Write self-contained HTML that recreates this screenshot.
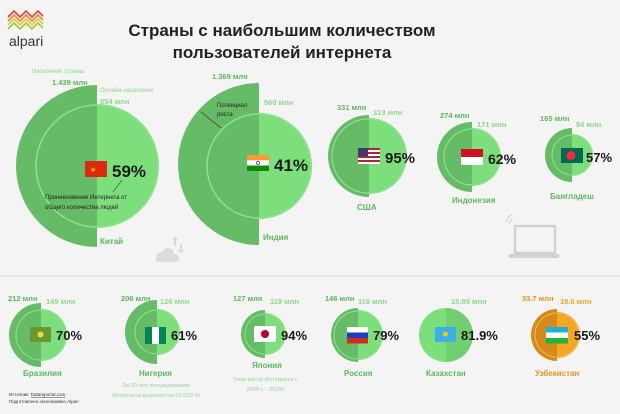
<!DOCTYPE html>
<html><head><meta charset="utf-8"><style>
html,body{margin:0;padding:0;background:#f4f4f4}
svg{display:block}
text{font-family:"Liberation Sans","DejaVu Sans",sans-serif}
</style></head><body>
<svg width="620" height="414" viewBox="0 0 620 414" xmlns="http://www.w3.org/2000/svg">
<rect width="620" height="414" fill="#f4f4f4"/>
<line x1="0" y1="276" x2="620" y2="276" stroke="#e6e6e6" stroke-width="2"/>
<!-- logo -->
<g fill="none" stroke-width="1.6">
<path d="M8 17 l6 -6 l6 6 l6 -6 l6 6 l6 -6 l5 5" stroke="#e8413a"/>
<path d="M8 21 l6 -6 l6 6 l6 -6 l6 6 l6 -6 l5 5" stroke="#f08a2a"/>
<path d="M8 25 l6 -6 l6 6 l6 -6 l6 6 l6 -6 l5 5" stroke="#f5c32c"/>
<path d="M8 29 l6 -6 l6 6 l6 -6 l6 6 l6 -6 l5 5" stroke="#9ccc3c"/>
</g>
<text x="9" y="46" font-size="14" fill="#333">alpari</text>
<text x="282" y="36" font-size="17" font-weight="bold" fill="#222" text-anchor="middle">Страны с наибольшим количеством</text>
<text x="282" y="58" font-size="17" font-weight="bold" fill="#222" text-anchor="middle">пользователей интернета</text>

<g>
<!-- China -->
<path d="M97 85 A81 81 0 0 0 97 247 Z" fill="#66bb66"/>
<path d="M97 104 A62 62 0 0 1 97 228 Z" fill="#7ddf7c"/>
<circle cx="97" cy="166" r="61" fill="none" stroke="#8fe08d" stroke-width="1.5"/>
<!-- India -->
<path d="M259 83 A81 81 0 0 0 259 245 Z" fill="#66bb66"/>
<path d="M259 113 A53 53 0 0 1 259 219 Z" fill="#7ddf7c"/>
<circle cx="259" cy="166" r="52" fill="none" stroke="#8fe08d" stroke-width="1.5"/>
<line x1="201" y1="112" x2="221" y2="128" stroke="#333" stroke-width="0.7"/>
<!-- USA -->
<path d="M369 115 A41 41 0 0 0 369 197 Z" fill="#66bb66"/>
<path d="M369 118 A38 38 0 0 1 369 194 Z" fill="#7ddf7c"/>
<circle cx="369" cy="156" r="37" fill="none" stroke="#8fe08d" stroke-width="1.2"/>
<!-- Indonesia -->
<path d="M472 122 A35 35 0 0 0 472 192 Z" fill="#66bb66"/>
<path d="M472 128 A29 29 0 0 1 472 186 Z" fill="#7ddf7c"/>
<circle cx="472" cy="157" r="28" fill="none" stroke="#8fe08d" stroke-width="1.2"/>
<!-- Bangladesh -->
<path d="M572 128 A27 27 0 0 0 572 182 Z" fill="#66bb66"/>
<path d="M572 134 A21 21 0 0 1 572 176 Z" fill="#7ddf7c"/>
<circle cx="572" cy="155" r="20" fill="none" stroke="#8fe08d" stroke-width="1"/>
<!-- bottom row -->
<path d="M41 303 A32 32 0 0 0 41 367 Z" fill="#66bb66"/>
<path d="M41 309 A26 26 0 0 1 41 361 Z" fill="#7ddf7c"/>
<circle cx="41" cy="335" r="25" fill="none" stroke="#8fe08d" stroke-width="1"/>
<path d="M157 300 A32 32 0 0 0 157 364 Z" fill="#66bb66"/>
<path d="M157 309 A23 23 0 0 1 157 355 Z" fill="#7ddf7c"/>
<circle cx="157" cy="332" r="22" fill="none" stroke="#8fe08d" stroke-width="1"/>
<path d="M265 310 A24 24 0 0 0 265 358 Z" fill="#66bb66"/>
<path d="M265 313 A21 21 0 0 1 265 355 Z" fill="#7ddf7c"/>
<circle cx="265" cy="334" r="20" fill="none" stroke="#8fe08d" stroke-width="1"/>
<path d="M358 308 A27 27 0 0 0 358 362 Z" fill="#66bb66"/>
<path d="M358 310 A25 25 0 0 1 358 360 Z" fill="#7ddf7c"/>
<circle cx="358" cy="335" r="24" fill="none" stroke="#8fe08d" stroke-width="1"/>
<path d="M446 308 A27 27 0 0 0 446 362 Z" fill="#7ddf7c"/>
<path d="M446 308 A27 27 0 0 1 446 362 Z" fill="#72cf71"/>
<path d="M557 309 A26 26 0 0 0 557 361 Z" fill="#d48a1c"/>
<path d="M557 312 A23 23 0 0 1 557 358 Z" fill="#f5a623"/>
<circle cx="557" cy="335" r="22" fill="none" stroke="#f7b84a" stroke-width="1"/>
</g>

<!-- flags top -->
<rect x="85" y="161" width="22" height="16" fill="#de2910"/><text x="90" y="172" font-size="7" fill="#ffde00">★</text>
<rect x="247" y="155" width="22" height="5.3" fill="#ff9933"/><rect x="247" y="160.3" width="22" height="5.3" fill="#fff"/><rect x="247" y="165.6" width="22" height="5.4" fill="#138808"/><circle cx="258" cy="163" r="1.6" fill="none" stroke="#000080" stroke-width="0.6"/>
<g><rect x="358" y="148" width="22" height="16" fill="#fff"/><rect x="358" y="148" width="22" height="2" fill="#b22234"/><rect x="358" y="152" width="22" height="2" fill="#b22234"/><rect x="358" y="156" width="22" height="2" fill="#b22234"/><rect x="358" y="160" width="22" height="2" fill="#b22234"/><rect x="358" y="148" width="10" height="8" fill="#3c3b6e"/></g>
<rect x="461" y="149" width="22" height="8" fill="#ce1126"/><rect x="461" y="157" width="22" height="8" fill="#fff"/>
<rect x="561" y="148" width="22" height="15" fill="#006a4e"/><circle cx="571" cy="155.5" r="4.5" fill="#f42a41"/>
<!-- flags bottom -->
<rect x="30" y="327" width="21" height="15" fill="#6a9a2a"/><circle cx="40.5" cy="334.5" r="3" fill="#e6d84a"/>
<rect x="145" y="327" width="7" height="17" fill="#008751"/><rect x="152" y="327" width="7" height="17" fill="#fff"/><rect x="159" y="327" width="7" height="17" fill="#008751"/>
<rect x="254" y="326" width="22" height="16" fill="#fff"/><circle cx="265" cy="334" r="4" fill="#bc002d"/>
<rect x="347" y="327" width="21" height="5.5" fill="#fff"/><rect x="347" y="332.5" width="21" height="5.5" fill="#1c3dc4"/><rect x="347" y="338" width="21" height="5.5" fill="#d52b1e"/>
<rect x="435" y="327" width="21" height="15" fill="#3ab0e6"/><circle cx="445.5" cy="334" r="2.5" fill="#fec50c"/>
<rect x="546" y="327" width="22" height="5.5" fill="#1eb0d8"/><rect x="546" y="332.5" width="22" height="5.5" fill="#fff"/><rect x="546" y="338" width="22" height="5.5" fill="#1eb53a"/>

<!-- percentages -->
<g font-weight="bold" fill="#1a1a1a">
<text x="112" y="177" font-size="17">59%</text>
<text x="274" y="171" font-size="17">41%</text>
<text x="385" y="163" font-size="15">95%</text>
<text x="488" y="164" font-size="14">62%</text>
<text x="586" y="162" font-size="13">57%</text>
<text x="56" y="340" font-size="13">70%</text>
<text x="171" y="340" font-size="13">61%</text>
<text x="281" y="340" font-size="13">94%</text>
<text x="373" y="340" font-size="13">79%</text>
<text x="461" y="340" font-size="13">81.9%</text>
<text x="574" y="340" font-size="13">55%</text>
</g>

<!-- value labels -->
<g font-size="7.5" font-weight="bold" fill="#5cb85c">
<text x="52" y="85">1.439 млн</text>
<text x="212" y="79">1.369 млн</text>
<text x="337" y="110">331 млн</text>
<text x="440" y="118">274 млн</text>
<text x="540" y="121">165 млн</text>
<text x="8" y="301">212 млн</text>
<text x="121" y="301">206 млн</text>
<text x="233" y="301">127 млн</text>
<text x="325" y="301">146 млн</text>
</g>
<text x="522" y="301" font-size="7.5" font-weight="bold" fill="#e8941f">33.7 млн</text>
<text x="560" y="304" font-size="7.5" font-weight="bold" fill="#f5a623">18.6 млн</text>
<g font-size="7.5" font-weight="bold" fill="#8ed88c">
<text x="100" y="104">854 млн</text>
<text x="264" y="105">560 млн</text>
<text x="373" y="115">313 млн</text>
<text x="477" y="127">171 млн</text>
<text x="576" y="127">94 млн</text>
<text x="46" y="304">149 млн</text>
<text x="160" y="304">126 млн</text>
<text x="270" y="304">119 млн</text>
<text x="358" y="304">116 млн</text>
<text x="451" y="304">18.89 млн</text>
</g>
<g font-size="6" fill="#8ed88c">
<text x="32" y="73">Население страны</text>
<text x="100" y="92">Онлайн-население</text>
</g>
<g font-size="6" fill="#222">
<text x="217" y="107">Потенциал</text>
<text x="217" y="116">роста</text>
<text x="45" y="199">Проникновение Интернета от</text>
<text x="45" y="209">общего количества людей</text>
</g>
<line x1="113" y1="192" x2="122" y2="180" stroke="#333" stroke-width="0.6"/>

<!-- country names -->
<g font-size="8" font-weight="bold" fill="#5cb85c">
<text x="100" y="244">Китай</text>
<text x="263" y="240">Индия</text>
<text x="357" y="210">США</text>
<text x="452" y="203">Индонезия</text>
<text x="550" y="199">Бангладеш</text>
<text x="23" y="376">Бразилия</text>
<text x="139" y="376">Нигерия</text>
<text x="252" y="368">Япония</text>
<text x="344" y="376">Россия</text>
<text x="426" y="376">Казахстан</text>
</g>
<text x="535" y="376" font-size="8" font-weight="bold" fill="#e8941f">Узбекистан</text>
<g font-size="5.8" fill="#8ed88c" text-anchor="middle">
<text x="156" y="387">За 20 лет использование</text>
<text x="156" y="397">Интернета выросло на 63 000 %</text>
<text x="265" y="381">Темп роста Интернета с</text>
<text x="265" y="391">2000 г. - 252%</text>
</g>
<g font-size="4.5" fill="#333">
<text x="9" y="396">Источник: <tspan text-decoration="underline">Datareportal.com</tspan></text>
<text x="9" y="403">Подготовлено эксклюзивно Alpari</text>
</g>

<!-- laptop -->
<g fill="none" stroke="#d2d2d2" stroke-width="2.5">
<rect x="515" y="226" width="40" height="27"/>
</g>
<rect x="509" y="254" width="50" height="4" fill="#d2d2d2"/>
<path d="M509 224 a6 6 0 0 1 4 -5 M506 222 a9 9 0 0 1 6 -7" stroke="#d2d2d2" fill="none" stroke-width="1"/>
<!-- cloud -->
<g fill="#dcdcdc">
<circle cx="161" cy="257" r="5"/><circle cx="168" cy="254" r="6"/><circle cx="175" cy="258" r="4"/>
<rect x="156" y="257" width="22" height="5" rx="2"/>
<path d="M172 240 l3 -4 l3 4 h-2 v6 h-2 v-6z M178 250 l3 4 l3 -4 h-2 v-6 h-2 v6z"/>
</g>
</svg>
</body></html>
